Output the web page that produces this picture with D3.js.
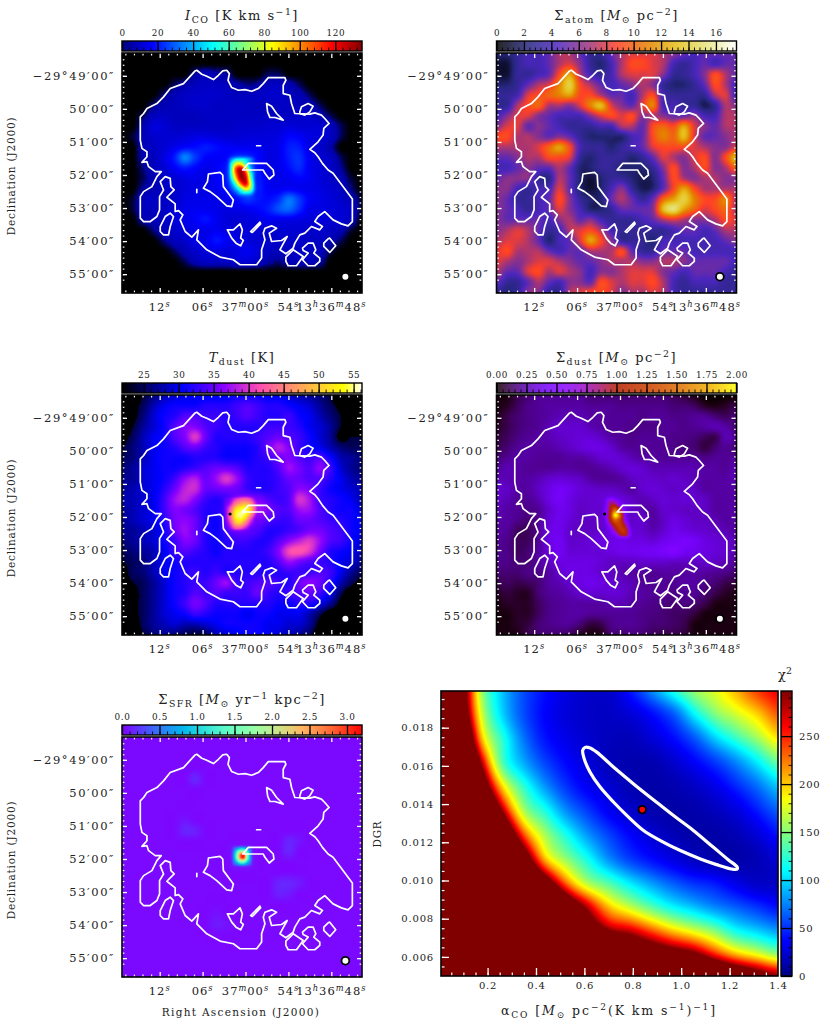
<!DOCTYPE html>
<html>
<head>
<meta charset="utf-8">
<script src="https://cdn.jsdelivr.net/npm/d3@7"></script>
<style>
  html, body { margin: 0; padding: 0; background: #fff; }
  svg { display: block; }
  text { font-family: "DejaVu Serif", serif; fill: #222; white-space: pre; }
</style>
</head>
<body>
<svg id="fig" width="830" height="1030"></svg>
<script>
// image pixel coordinates of the map contour (0-722 across each map)
const contourMain = [[225,52],[240,64],[255,70],[275,80],[290,67],[303,54],[315,52],[323,62],[319,82],[330,104],[350,112],[370,110],[390,115],[410,107],[425,92],[440,74],[490,74],[493,82],[485,97],[485,122],[505,127],[510,152],[520,182],[565,184],[580,180],[600,187],[610,197],[623,212],[607,227],[605,247],[590,267],[565,290],[580,300],[590,312],[603,332],[620,352],[635,362],[693,439],[693,507],[680,520],[660,514],[635,502],[610,477],[590,492],[580,507],[603,522],[595,532],[570,522],[550,542],[535,547],[520,572],[515,587],[493,604],[475,592],[483,577],[497,552],[480,564],[450,567],[443,542],[465,527],[450,520],[430,527],[425,542],[430,562],[420,592],[420,617],[405,637],[355,637],[335,622],[295,614],[255,592],[225,562],[230,532],[210,554],[190,537],[175,502],[183,487],[170,474],[160,477],[160,454],[135,434],[157,412],[147,402],[145,377],[130,372],[115,387],[125,412],[113,432],[113,472],[105,492],[85,507],[65,507],[55,497],[55,432],[65,417],[90,402],[105,372],[118,357],[100,357],[80,342],[75,327],[60,329],[75,312],[75,297],[60,287],[55,262],[55,192],[65,182],[75,167],[105,152],[125,132],[145,107],[185,92],[220,54]];
const contourHoles = [
  [[363,352],[380,332],[435,332],[455,352],[457,367],[443,379],[430,362],[425,352]],
  [[260,364],[295,359],[303,367],[305,402],[335,442],[330,462],[315,460],[285,432],[265,417],[245,407],[257,387]],
  [[435,152],[450,160],[465,182],[485,202],[460,194],[445,194],[438,177]],
  [[535,177],[540,162],[560,152],[575,160],[565,177],[550,187],[535,182]],
  [[405,279],[417,279]],
  [[225,410],[225,420]],
  [[115,522],[130,492],[145,482],[155,492],[145,522],[140,547],[125,547],[115,537]],
  [[317,532],[335,532],[355,514],[362,532],[357,557],[365,564],[357,580],[343,572],[330,557]],
  [[387,537],[415,509],[417,514],[392,540]],
  [[625,557],[643,580],[625,600],[607,582],[607,572],[620,559]],
  [[493,614],[515,592],[545,612],[525,640],[500,640],[493,627]],
  [[543,587],[560,572],[575,572],[583,592],[577,602],[595,617],[595,627],[580,640],[560,640],[543,622],[560,602],[545,594]]
];
const beamCentre = [672, 673];
const nanPixel = [325, 358];

const raTicks = [12, 6, 0, -6, -12];
const raLabels = ["12~{s}", "06~{s}", "37~{m}00~{s}", "54~{s}", "13~{h}36~{m}48~{s}"];
const decTicks = [49, 50, 51, 52, 53, 54, 55];
const decLabels = ["−29°49′00″", "50′00″", "51′00″", "52′00″", "53′00″", "54′00″", "55′00″"];

const coTicks = [0, 20, 40, 60, 80, 100, 120];
const atomTicks = [0, 2, 4, 6, 8, 10, 12, 14, 16];
const tdustTicks = [25, 30, 35, 40, 45, 50, 55];
const dustTicks = [0, 0.25, 0.5, 0.75, 1, 1.25, 1.5, 1.75, 2];
const sfrTicks = [0, 0.5, 1, 1.5, 2, 2.5, 3];
const chiTicks = [0, 50, 100, 150, 200, 250];
const alphaTicks = [0.2, 0.4, 0.6, 0.8, 1.0, 1.2, 1.4];
const dgrTicks = [0.006, 0.008, 0.01, 0.012, 0.014, 0.016, 0.018];

// I_CO [K km/s], 0 = no data
const coGrid = [
[0,0,0,0,0,0,0,0,0,0,0,0,0,0,0,0,0,0,0,0,0,0,0,0],
[0,0,0,0,0,0,0,0,0,0,0,0,0,0,0,0,0,0,0,0,0,0,0,0],
[0,0,0,0,0,0,0,5,8,6,5,0,0,0,3,3,0,0,0,0,0,0,0,0],
[0,0,0,0,0,3,6,8,9,9,8,6,4,5,8,9,7,3,0,0,0,0,0,0],
[0,0,0,0,4,7,9,10,10,10,9,8,8,9,10,10,8,7,3,0,0,0,0,0],
[0,0,0,4,7,8,9,10,10,9,9,9,9,8,8,9,9,8,7,3,0,0,0,0],
[0,0,3,8,9,8,8,8,9,9,9,9,9,9,9,9,9,10,10,7,3,0,0,0],
[0,0,6,12,11,9,9,9,9,9,9,10,10,10,11,11,12,11,11,11,8,3,0,0],
[0,2,7,10,11,11,12,13,13,12,11,11,12,12,12,13,17,16,13,12,9,3,0,0],
[0,0,7,9,11,14,17,18,20,18,16,15,15,15,13,14,20,20,13,10,6,0,0,0],
[0,0,6,8,13,20,34,24,17,16,17,22,22,18,13,14,20,23,15,11,9,3,0,0],
[0,0,4,8,11,16,20,17,14,16,20,30,30,20,14,14,18,22,15,12,10,5,0,0],
[0,0,3,7,9,11,13,14,13,16,20,30,30,22,15,14,15,17,15,12,10,7,2,0],
[0,0,5,7,9,10,12,13,13,15,18,26,30,22,16,15,16,15,14,13,11,9,4,0],
[0,2,8,9,9,10,13,14,14,14,15,18,24,20,18,22,32,24,16,14,12,10,7,2],
[0,2,8,8,9,11,14,15,15,14,13,14,15,17,20,27,30,22,14,13,12,11,9,2],
[0,0,6,7,9,12,14,16,19,15,12,11,12,13,15,14,14,13,12,12,11,11,8,0],
[0,0,0,4,8,10,12,14,14,15,13,12,12,11,11,11,11,11,10,10,9,7,2,0],
[0,0,0,0,4,8,10,14,14,19,16,13,12,11,10,10,10,10,9,9,7,3,0,0],
[0,0,0,0,0,3,7,10,12,13,12,13,15,12,9,8,9,9,9,8,3,0,0,0],
[0,0,0,0,0,0,3,7,9,9,9,11,11,9,6,4,7,8,8,6,0,0,0,0],
[0,0,0,0,0,0,0,0,0,0,0,0,0,0,0,0,0,0,0,0,0,0,0,0],
[0,0,0,0,0,0,0,0,0,0,0,0,0,0,0,0,0,0,0,0,0,0,0,0],
[0,0,0,0,0,0,0,0,0,0,0,0,0,0,0,0,0,0,0,0,0,0,0,0]];
// finer reading around the nucleus
const coCore = [
[16,18,22,24,22,18,15,14],
[18,30,45,50,45,35,20,15],
[20,45,80,85,60,35,20,15],
[22,50,105,125,95,45,22,16],
[22,50,100,132,115,60,25,16],
[20,42,85,125,125,70,25,16],
[18,32,60,100,120,80,28,16],
[16,24,40,62,85,70,28,16],
[15,18,25,38,45,40,22,15],
[14,15,18,22,24,24,18,14]];

// Sigma_atom [Msun/pc2]
const atomGrid = [
[2,2,3,4,4,5,7,7,5,3,3,5,7,8,8,8,7,6,5,4,5,5,5,5],
[1,1,3,4,4,5,7,8,6,3,2,4,7,9,9,8,7,4,3,4,5,4,5,5],
[1,1,3,3,4,5,9,12,7,4,3,4,7,8,8,8,6,3,3,4,6,9,7,5],
[2,2,3,5,7,8,11,14,9,7,5,4,5,6,7,6,3,2,2,3,5,9,7,4],
[3,3,4,8,9,10,11,12,9,9,7,5,5,4,7,9,4,3,3,3,3,7,8,4],
[3,3,7,9,10,7,7,6,8,11,13,8,6,5,8,11,4,4,3,3,1.5,3,7,6],
[4,6,8,8,6,5,4,4,4,6,8,9,8,9,6,7,6,5,5,6,4,4,7,7],
[6,8,8,5,6,5,4,3,3,3,4,4,7,7,5,9,10,9,12,8,6,5,7,7],
[9,9,7,7,6,5,6,5,3,2,2,2,2,4,5,9,11,10,13,8,5,5,6,7],
[7,7,7,7,8,10,12,9,4,3,3,2,3,4,5,8,9,9,9,8,7,6,6,8],
[5,5,6,7,7,9,9,8,3,2,3,3,3,2,3,5,8,7,6,8,9,6,9,13],
[4,4,5,6,5,5,7,5,2,2,3,3,2,2,2,3,6,9,6,7,9,6,7,10],
[5,6,6,6,3,2.5,7,5,2,1,2,3,3,2,1.5,2,5,9,7,6,7,7,6,6],
[6,6,4,3,4,4,8,5,2,1,2,4,6,3,1.5,2,5,9,12,9,7,7,7,7],
[6,5,3,3,4,5,9,6,3,2,2,5,7,5,3,5,10,12,14,11,9,9,11,7],
[6,5,4,3,4,5,8,6,4,2,2,3,5,5,5,6,13,15,12,10,8,9,10,7],
[6,5,5,5,5,4,6,7,5,6,4,3,3,3,4,5,7,8,7,6,6,7,9,8],
[6,7,8,7,5,3,4,7,8,9,7,4,3,3,3,3,3,4,5,5,4,5,7,7],
[7,8,8,7,5,2,4,5,8,12,9,6,3,3,3,2,4,4,4,4,4,4,5,6],
[8,9,7,7,7,5,4,5,5,7,7,7,9,5,3,3,5,5,5,4,4,4,4,4],
[8,7,6,7,8,8,7,6,5,5,6,7,7,7,6,6,7,7,6,5,5,5,5,4],
[7,5,5,8,9,7,8,7,6,4,6,6,7,8,8,8,6,5,4,5,5,5,4,3],
[5,3,3,5,7,5,4,6,6,5,9,8,7,8,8,9,7,4,3,4,4,4,3,3],
[3,2,3,6,6,3,3,7,8,9,9,8,6,7,7,8,7,4,3,3,3,3,3,3]];

// T_dust [K]
const tdustGrid = [
[22,22,24,26,28,29,30,30,30,30,30,31,31,31,30,30,29,28,27,26,24,22,22,22],
[22,23,25,28,30,31,31,31,32,32,32,33,34,33,32,32,31,30,29,27,25,23,22,22],
[22,23,26,29,31,32,34,34,33,33,32,33,34,33,32,32,33,31,30,28,26,24,22,22],
[22,24,27,29,31,34,36,36,34,33,32,32,32,32,33,33,33,32,30,29,27,24,22,22],
[23,25,28,30,31,34,36,40,35,32,32,32,32,33,34,35,34,33,31,29,27,23,24,24],
[24,26,28,30,31,32,34,35,33,32,31,31,31,32,35,38,36,33,31,30,28,26,25,25],
[25,26,28,30,31,31,31,32,32,32,31,31,31,32,33,35,36,34,33,34,31,28,27,26],
[26,27,29,30,31,31,32,33,34,35,35,34,32,32,32,34,37,35.5,34,36.5,33,29,27,26],
[27,27,29,30,31,33,36.5,38,35,37,40,37,33,32,32,33,35,35,34,34,32,30,28,27],
[27,28,29,30,32,35,38.5,39,35,35,35.5,35,33,32,32,33,34,36.5,35.5,33,31,30,29,28],
[28,28,29,30,33,37,38.5,36,33,32,33,35,36,36,34,33,34,39.5,37.5,33,32,31,30,28],
[27,28,29,30,33,36,35.5,34,32,32,33,36,38,38,36,34,34,37,37,34,32,31,31,29],
[27,28,29,30,32,35.5,36.5,35,32,31,33,36,38,36,34,33,33,35,35,34,33,32,31,30],
[27,27,28,29,31,35,37,35,32,31,33,35,35,34,32,32,33,34,35.5,35.5,34,33,31,30],
[26,27,28,29,31,33,36,35,32,31,32,33,33,32,32,34,36.5,38.5,40,37,34,33,31,29],
[25,26,27,28,30,33,34,33,32,31,32,32,32,32,33,36,41,42,40,35.5,32,31,30,28],
[24,25,26,28,30,31,32,32,32,32,32,32,32,32,32,34,37,35.5,34,33,32,30,29,27],
[23,25,26,28,30,31,32,33,32,33,32,32,32,32,32,32,33,33,33,34,33,30,27,25],
[23,24,25,27,29,31,32,33,33,35,37,33,33,34,34,33,32,35,36.5,35,32,28,25,23],
[22,23,25,27,29,31,32,34,33,34,33,33,33,35,33,32,33,34,35,33,30,25,22,22],
[22,23,25,27,29,31,33,35.5,34,32,32,32,32,32,32,31,31,32,32,30,27,23,22,22],
[22,23,25,27,29,30,31,33,32,31,31,31,30,31,31,30,30,30,28,25,22,22,22,22],
[22,22,25,27,28,29,28,28,29,30,31,31,31,31,30,30,29,29,27,23,22,22,22,22],
[22,22,24,26,27,26,25,24,25,28,29,30,31,31,30,29,28,27,25,22,22,22,22,22]];
// the bright nucleus read on a finer raster
const tdustCore = [
[33,33,34,35,36,36,35,34,33],
[33,34,36,39,41,42,40,36,34],
[33,35,38,44,47,48,46,39,35],
[33,36,42,50,53,54,50,41,35],
[33,36,44,53,55,54,48,39,34],
[33,36,43,52,54,50,42,36,34],
[33,35,40,48,49,44,38,35,33],
[33,34,37,41,41,38,35,34,33],
[32,33,34,35,35,34,33,33,32]];

// Sigma_dust [Msun/pc2]
const dustGrid = [
[.02,.02,.1,.15,.2,.2,.2,.2,.2,.15,.15,.15,.15,.15,.15,.15,.15,.12,.08,.03,0,0,0,0],
[.02,.05,.12,.18,.2,.22,.22,.22,.22,.2,.2,.2,.18,.18,.18,.18,.18,.15,.15,.12,.05,.03,.05,.1],
[.03,.1,.15,.18,.2,.22,.25,.25,.25,.22,.22,.2,.2,.2,.18,.2,.2,.18,.18,.2,.2,.15,.12,.15],
[.05,.1,.15,.18,.2,.25,.3,.3,.3,.25,.22,.2,.2,.18,.18,.18,.2,.2,.18,.2,.22,.25,.22,.15],
[.08,.12,.17,.2,.22,.25,.28,.3,.32,.32,.28,.22,.2,.18,.2,.2,.2,.18,.18,.16,.12,.1,.25,.2],
[.1,.15,.2,.22,.22,.22,.25,.28,.32,.35,.35,.3,.22,.2,.2,.2,.2,.18,.16,.15,.08,.15,.2,.15],
[.15,.2,.22,.22,.2,.2,.2,.22,.22,.25,.3,.32,.3,.25,.22,.22,.2,.2,.2,.2,.18,.2,.2,.2],
[.2,.25,.22,.2,.2,.2,.22,.22,.2,.2,.22,.25,.3,.32,.3,.25,.25,.25,.25,.25,.22,.22,.2,.25],
[.25,.25,.22,.22,.25,.3,.32,.3,.28,.22,.2,.2,.22,.28,.3,.3,.28,.3,.28,.25,.22,.22,.22,.25],
[.3,.28,.22,.22,.28,.35,.42,.38,.32,.3,.28,.28,.25,.22,.3,.32,.3,.28,.3,.28,.22,.22,.22,.22],
[.28,.25,.2,.2,.25,.35,.42,.35,.3,.3,.32,.35,.32,.28,.25,.28,.32,.3,.32,.3,.28,.22,.22,.22],
[.25,.22,.2,.18,.2,.3,.38,.35,.28,.3,.3,.32,.32,.3,.25,.22,.3,.3,.28,.28,.28,.22,.22,.22],
[.22,.22,.18,.15,.2,.32,.38,.32,.28,.28,.3,.32,.32,.3,.3,.22,.28,.35,.32,.28,.28,.25,.22,.22],
[.22,.2,.12,.12,.2,.35,.38,.3,.28,.28,.3,.32,.34,.32,.3,.25,.3,.38,.35,.32,.3,.28,.25,.22],
[.2,.18,.12,.12,.2,.35,.4,.3,.3,.32,.35,.36,.38,.35,.35,.32,.38,.42,.45,.42,.35,.32,.3,.25],
[.18,.18,.12,.15,.22,.32,.4,.32,.32,.32,.32,.35,.38,.38,.4,.42,.45,.5,.42,.38,.35,.32,.3,.22],
[.18,.18,.15,.15,.22,.28,.35,.35,.35,.35,.32,.28,.28,.28,.3,.3,.3,.28,.28,.28,.3,.28,.25,.2],
[.15,.15,.15,.18,.18,.22,.3,.35,.35,.35,.3,.28,.25,.22,.22,.2,.22,.22,.22,.22,.22,.2,.18,.15],
[.1,.12,.1,.12,.15,.22,.25,.3,.35,.38,.35,.3,.28,.25,.2,.2,.2,.2,.22,.22,.18,.15,.1,.08],
[.05,.08,.05,.05,.15,.2,.22,.25,.3,.32,.3,.32,.3,.25,.22,.2,.2,.18,.2,.2,.15,.1,.05,.03],
[.02,.05,.05,.05,.12,.18,.2,.22,.22,.22,.22,.25,.25,.22,.2,.18,.17,.15,.17,.15,.1,.03,.02,.02],
[.02,.02,.05,.05,.12,.18,.2,.22,.22,.2,.2,.2,.2,.2,.18,.17,.15,.13,.12,.08,.02,.02,.02,.02],
[.02,.02,.05,.08,.15,.18,.2,.2,.15,.08,.1,.18,.2,.2,.18,.15,.15,.13,.1,.02,.02,.02,.02,.02],
[.02,.02,.03,.1,.15,.15,.15,.12,.05,.02,.03,.15,.15,.17,.15,.12,.1,.1,.08,.02,.02,.02,.02,.02]];
const dustCore = [
[.3,.32,.38,.35,.32,.3,.28,.28],
[.32,.38,.7,.55,.38,.32,.3,.28],
[.32,.42,.9,.95,.55,.35,.3,.28],
[.32,.5,1.0,1.5,1.0,.4,.3,.28],
[.3,.5,1.1,2.0,1.4,.5,.3,.28],
[.3,.42,1.0,1.45,1.2,.6,.3,.28],
[.3,.35,.7,1.1,1.2,.85,.35,.28],
[.3,.32,.45,.85,1.15,1.1,.45,.3],
[.3,.32,.38,.5,.9,1.0,.5,.3],
[.3,.32,.35,.38,.45,.5,.35,.3]];

// Sigma_SFR is nearly flat: a level plus the cells that stand out [col,row,value]
const sfrLevel = 0.03;
const sfrCells = [[11,11,.12],[12,11,.12],[11,12,.12],[12,12,.12],
  [7,4,.15],[6,9,.14],[7,9,.12],[6,8,.08],[16,10,.14],[17,10,.08],[16,11,.14],[15,14,.13],[16,14,.15],[15,15,.12],[17,14,.1],[16,15,.1],[9,18,.1],[9,17,.07],[10,18,.07]];
const sfrCore = [
[.08,.15,.22,.28,.28,.22,.15,.08],
[.15,.3,.55,.8,.8,.55,.3,.15],
[.22,.55,1.2,1.7,1.7,1.2,.55,.22],
[.28,.7,1.6,2.7,2.9,1.6,.7,.28],
[.28,.7,1.6,2.7,2.9,1.6,.7,.28],
[.22,.55,1.1,1.7,1.7,1.1,.55,.22],
[.12,.3,.55,.8,.8,.55,.3,.12],
[.06,.12,.22,.28,.28,.22,.12,.06]];

// chi2 read along 13 rows (top first) and 17 columns
const chiGrid = [
[700,350,150,90,57,39,28,22,22,42,75,115,152,175,205,240,262],
[800,380,165,95,57,36,26,21,20,25,38,60,105,145,170,196,232],
[1000,480,195,118,68,41,30,23,18,17,25,38,60,95,125,155,190],
[1200,600,265,128,84,55,37,26,17,14,14,22,35,52,75,105,140],
[1500,800,360,186,120,78,50,33,24,15,12,14,20,30,47,68,95],
[1900,1100,520,270,155,115,75,52,33,22,14,12,13,18,27,44,65],
[2300,1500,800,410,225,155,113,78,54,36,24,16,12,12,16,26,42],
[2700,1900,1100,620,340,195,148,112,75,52,38,27,18,13,12,16,26],
[3100,2400,1500,950,520,330,215,155,128,100,78,60,47,40,28,20,20],
[3500,2900,2100,1500,1000,600,370,265,195,160,130,105,88,72,60,48,38],
[4000,3400,2700,2000,1500,1000,560,370,285,262,225,190,165,140,108,92,78],
[4500,3900,3200,2600,2100,1600,1000,660,480,405,360,325,295,240,195,170,145],
[5000,4400,3800,3200,2700,2300,1700,1200,900,700,620,570,520,437,377,330,290]];

const chiEllipse = [[.593,.01681],[.603,.01697],[.621,.01695],[.651,.01672],[.72,.01594],[.802,.01507],[.885,.01423],[.967,.01341],[1.049,.01263],[1.132,.01175],[1.194,.01109],[1.231,.01071],[1.231,.01059],[1.208,.0106],[1.146,.01083],[1.077,.01114],[.994,.01158],[.912,.0121],[.843,.01263],[.775,.01341],[.72,.01411],[.665,.01489],[.623,.01568],[.599,.01638]];
const bestFit = [0.839, 0.01371];

// colour maps
const jet = t => {
  const f = c => Math.max(0, Math.min(1, 1.5 - Math.abs(4 * t - c)));
  return [f(3), f(2), f(1)];
};
const cmrStops = [[0,0,0],[.15,.15,.5],[.3,.15,.75],[.6,.2,.5],[1,.25,.15],[.9,.5,0],[.9,.75,.1],[.9,.9,.5],[1,1,1]];
const cmr = t => {
  const p = Math.max(0, Math.min(0.9999, t)) * 8, i = Math.floor(p), k = p - i;
  return cmrStops[i].map((c, j) => c + (cmrStops[i + 1][j] - c) * k);
};
const gnuplot2 = t => {
  const b = t < .25 ? 4 * t : t < .92 ? -2 * t + 1.84 : t / .08 - 11.5;
  return [t / .32 - .78125, 2 * t - .84, b];
};
const gnuplot = t => {
  const c = Math.max(0, t);
  return [Math.sqrt(c), c * c * c, Math.sin(2 * Math.PI * c)];
};
const rainbow = t => [Math.abs(2 * t - .5), Math.sin(Math.PI * t), Math.cos(Math.PI * t / 2)];

const rgbOf = cmap => t => {
  const c = cmap(Math.max(0, Math.min(1, t))).map(v => Math.round(255 * Math.max(0, Math.min(1, v))));
  return `rgb(${c[0]},${c[1]},${c[2]})`;
};

// Catmull-Rom sampling, the "bicubic" imshow of the original
const cubic = (a, b, c, d, t) =>
  b + 0.5 * t * (c - a + t * (2 * a - 5 * b + 4 * c - d + t * (3 * (b - c) + d - a)));
function sampleGrid(grid, gx, gy) {
  const rows = grid.length, cols = grid[0].length;
  const ix = Math.min(Math.floor(gx), cols - 2), iy = Math.min(Math.floor(gy), rows - 2);
  const at = (r, c) => grid[Math.max(0, Math.min(rows - 1, r))][Math.max(0, Math.min(cols - 1, c))];
  const line = [-1, 0, 1, 2].map(dr =>
    cubic(at(iy + dr, ix - 1), at(iy + dr, ix), at(iy + dr, ix + 1), at(iy + dr, ix + 2), gx - ix));
  return cubic(line[0], line[1], line[2], line[3], gy - iy);
}

function fieldImage(opt) {
  const { grid, colour, domain, w, h } = opt;
  const floor = opt.floor === undefined ? -Infinity : opt.floor;
  const canvas = document.createElement("canvas");
  canvas.width = w;
  canvas.height = h;
  const ctx = canvas.getContext("2d");
  const img = ctx.createImageData(w, h);
  const gx = d3.scaleLinear().domain([0, w - 1]).range([0, grid[0].length - 1]);
  const gy = d3.scaleLinear().domain([0, h - 1]).range([0, grid.length - 1]);
  const norm = d3.scaleLinear().domain(domain).range([0, 1]);
  const core = opt.core;
  let cx, cy;
  if (core) {
    cx = d3.scaleLinear().domain(core.x).range([0, core.grid[0].length - 1]);
    cy = d3.scaleLinear().domain(core.y).range([0, core.grid.length - 1]);
  }
  for (let y = 0; y < h; y++) {
    for (let x = 0; x < w; x++) {
      let v = sampleGrid(grid, gx(x), gy(y));
      if (opt.post) v = opt.post(v);
      if (core) {
        const ix = x / w * 722, iy = y / h * 722;
        const ux = cx(ix), uy = cy(iy);
        const nc = core.grid[0].length - 1, nr = core.grid.length - 1;
        if (ux >= 0 && ux <= nc && uy >= 0 && uy <= nr) {
          const wgt = Math.min(1, Math.min(ux, nc - ux)) * Math.min(1, Math.min(uy, nr - uy));
          v = v * (1 - wgt) + sampleGrid(core.grid, ux, uy) * wgt;
        }
      }
      let c = v < floor ? [0, 0, 0] : colour(Math.max(0, Math.min(1, norm(v))));
      if (opt.fade && v < opt.fade) {
        const k = Math.max(0, v / opt.fade);
        c = c.map(u => u * k);
      }
      const o = 4 * (y * w + x);
      img.data[o] = 255 * Math.max(0, Math.min(1, c[0]));
      img.data[o + 1] = 255 * Math.max(0, Math.min(1, c[1]));
      img.data[o + 2] = 255 * Math.max(0, Math.min(1, c[2]));
      img.data[o + 3] = 255;
    }
  }
  ctx.putImageData(img, 0, 0);
  return canvas.toDataURL();
}

// small markup: ^{sup} _{sub} ~{italic sup} *italic*
function richText(sel, str, size) {
  const re = /(\^\{[^}]*\}|_\{[^}]*\}|~\{[^}]*\}|\*[^*]*\*)/;
  let shift = 0;
  str.split(re).filter(s => s.length).forEach(tok => {
    let t = tok, fs = size, target = 0, italic = false;
    if (tok[0] === "^") { t = tok.slice(2, -1); fs = size * .72; target = -size * .38; }
    else if (tok[0] === "~") { t = tok.slice(2, -1); fs = size * .72; target = -size * .38; italic = true; }
    else if (tok[0] === "_") { t = tok.slice(2, -1); fs = size * .72; target = size * .22; }
    else if (tok[0] === "*") { t = tok.slice(1, -1); italic = true; }
    sel.append("tspan")
      .attr("dy", target - shift)
      .attr("font-size", fs)
      .attr("font-style", italic ? "italic" : "normal")
      .text(t);
    shift = target;
  });
  return sel;
}

function styleTicks(g, colour, width) {
  g.select(".domain").remove();
  g.selectAll(".tick line").attr("stroke", colour).attr("stroke-width", width);
  g.selectAll(".tick text").remove();
}

const svg = d3.select("#fig");
const MAP = 240, CBH = 10;
const raScale = d3.scaleLinear().domain([17.27, -16.29]).range([0, MAP]);
const decScale = d3.scaleLinear().domain([48.31, 55.57]).range([0, MAP]);
const imgX = d3.scaleLinear().domain([0, 722]).range([0, MAP]);
const imgY = d3.scaleLinear().domain([0, 722]).range([0, MAP]);
const contourLine = d3.line().x(d => imgX(d[0])).y(d => imgY(d[1])).curve(d3.curveLinearClosed);

function drawColorbar(cfg) {
  const g = svg.append("g").attr("transform", `translate(${cfg.x},${cfg.y - CBH - 2})`);
  const sc = d3.scaleLinear().domain(cfg.domain).range([0, MAP]);
  const col = rgbOf(cfg.cmap);
  g.selectAll("rect.step").data(d3.range(MAP)).join("rect")
    .attr("class", "step")
    .attr("x", d => d).attr("y", 0).attr("width", 1.2).attr("height", CBH)
    .attr("fill", d => col(d / MAP));
  // minor then major separators
  const step = cfg.ticks[1] - cfg.ticks[0];
  const minors = d3.range(cfg.domain[0] - (cfg.domain[0] % (step / cfg.sub)), cfg.domain[1], step / cfg.sub)
    .filter(v => v >= cfg.domain[0]);
  g.append("g").attr("transform", `translate(0,${CBH})`)
    .call(d3.axisBottom(sc).tickValues(minors).tickSize(-3.5).tickFormat(""))
    .call(a => styleTicks(a, "#000", 0.9));
  g.append("g").attr("transform", `translate(0,${CBH})`)
    .call(d3.axisBottom(sc).tickValues(cfg.ticks).tickSize(-CBH).tickFormat(""))
    .call(a => styleTicks(a, "#000", 1.3));
  g.append("rect").attr("width", MAP).attr("height", CBH)
    .attr("fill", "none").attr("stroke", "#000").attr("stroke-width", 1.4);
  const lab = g.append("g").call(d3.axisTop(sc).tickValues(cfg.ticks).tickSize(0).tickPadding(5)
    .tickFormat(cfg.format));
  lab.select(".domain").remove();
  lab.selectAll("text").attr("font-size", 8.8).attr("font-family", "DejaVu Serif").attr("fill", "#333").style("letter-spacing", ".6px");
  const title = g.append("text").attr("x", MAP / 2).attr("y", -21).attr("text-anchor", "middle")
    .style("letter-spacing", "1.5px");
  richText(title, cfg.title, 13);
}

function drawMap(cfg) {
  const g = svg.append("g").attr("transform", `translate(${cfg.x},${cfg.y})`);
  g.append("image").attr("width", MAP).attr("height", MAP)
    .attr("href", fieldImage({ grid: cfg.grid, colour: cfg.cmap, domain: cfg.domain, floor: cfg.floor,
      fade: cfg.fade, core: cfg.core, w: MAP, h: MAP }));

  g.append("path").datum(contourMain).attr("d", contourLine)
    .attr("fill", "none").attr("stroke", "#fff").attr("stroke-width", 1.7).attr("stroke-linejoin", "round");
  g.selectAll("path.hole").data(contourHoles).join("path")
    .attr("class", "hole").attr("d", contourLine)
    .attr("fill", "none").attr("stroke", "#fff").attr("stroke-width", 1.7).attr("stroke-linejoin", "round");

  if (cfg.nan) {
    g.append("circle").attr("cx", imgX(nanPixel[0])).attr("cy", imgY(nanPixel[1])).attr("r", 1.6).attr("fill", "#000");
  }
  g.append("circle").attr("cx", imgX(beamCentre[0])).attr("cy", imgY(beamCentre[1])).attr("r", 3.9)
    .attr("fill", "#fff").attr("stroke", "#000").attr("stroke-width", 1.8);

  // white ticks on all four sides
  const raMinor = d3.range(-16.8, 17.2, 1.2).filter(v => !raTicks.some(t => Math.abs(t - v) < .01));
  const decMinor = d3.range(0, 44).map(i => 48 + i / 6).filter(v => v > 48.35 && v < 55.55);
  const sides = [
    { axis: d3.axisBottom, sc: raScale, maj: raTicks, min: raMinor, tr: `translate(0,${MAP})` },
    { axis: d3.axisTop, sc: raScale, maj: raTicks, min: raMinor, tr: "translate(0,0)" },
    { axis: d3.axisLeft, sc: decScale, maj: decTicks, min: decMinor, tr: "translate(0,0)" },
    { axis: d3.axisRight, sc: decScale, maj: decTicks, min: decMinor, tr: `translate(${MAP},0)` },
  ];
  sides.forEach(s => {
    g.append("g").attr("transform", s.tr)
      .call(s.axis(s.sc).tickValues(s.min).tickSize(-2.4).tickFormat(""))
      .call(a => styleTicks(a, "#fff", 1.2));
    g.append("g").attr("transform", s.tr)
      .call(s.axis(s.sc).tickValues(s.maj).tickSize(-5).tickFormat(""))
      .call(a => styleTicks(a, "#fff", 1.3));
  });

  g.append("rect").attr("width", MAP).attr("height", MAP)
    .attr("fill", "none").attr("stroke", "#000").attr("stroke-width", 1.6);

  raTicks.forEach((t, i) => {
    const lab = g.append("text").attr("x", raScale(t)).attr("y", MAP + 18).attr("text-anchor", "middle")
      .style("letter-spacing", "1px");
    richText(lab, raLabels[i], 11.5);
  });
  decTicks.forEach((t, i) => {
    const lab = g.append("text").attr("x", -7).attr("y", decScale(t) + 4).attr("text-anchor", "end")
      .style("letter-spacing", "1.6px");
    richText(lab, decLabels[i], 11.5);
  });

  if (cfg.ylabel) {
    g.append("text").attr("transform", `translate(${-cfg.x + 15},${MAP / 2 + 3}) rotate(-90)`)
      .attr("text-anchor", "middle").attr("font-size", 10.5).style("letter-spacing", ".8px")
      .text("Declination (J2000)");
  }
  if (cfg.xlabel) {
    g.append("text").attr("x", MAP / 2 - 1).attr("y", MAP + 39).attr("text-anchor", "middle")
      .attr("font-size", 10.5).style("letter-spacing", "1.3px").text("Right Ascension (J2000)");
  }
  drawColorbar(cfg);
}

const fmtInt = d3.format("d");
drawMap({ x: 122, y: 53, grid: coGrid, cmap: jet, domain: [0, 135], fade: 5, ylabel: true,
  core: { grid: coCore, x: [310, 415], y: [302, 437] },
  ticks: coTicks, sub: 5, format: fmtInt, title: "*I*_{CO} [K km s^{−1}]" });
drawMap({ x: 496.5, y: 53, grid: atomGrid, cmap: cmr, domain: [0, 17.5],
  ticks: atomTicks, sub: 5, format: fmtInt, title: "Σ_{atom} [*M*_{⊙} pc^{−2}]" });
drawMap({ x: 122, y: 395, grid: tdustGrid, cmap: gnuplot2, domain: [21.9, 56.2], floor: 24, ylabel: true, nan: true,
  core: { grid: tdustCore, x: [295, 415], y: [295, 415] },
  ticks: tdustTicks, sub: 5, format: fmtInt, title: "*T*_{dust} [K]" });
drawMap({ x: 496.5, y: 395, grid: dustGrid, cmap: gnuplot, domain: [0, 2], nan: true,
  core: { grid: dustCore, x: [311, 416], y: [300, 435] },
  ticks: dustTicks, sub: 5, format: d3.format(".2f"), title: "Σ_{dust} [*M*_{⊙} pc^{−2}]" });

const sfrGrid = coGrid.map(r => r.map(() => sfrLevel));
sfrCells.forEach(([c, r, v]) => { sfrGrid[r][c] = v; });
drawMap({ x: 122, y: 737, grid: sfrGrid, cmap: rainbow, domain: [0, 3.2], ylabel: true, xlabel: true,
  core: { grid: sfrCore, x: [325, 395], y: [322, 392] },
  ticks: sfrTicks, sub: 5, format: d3.format(".1f"), title: "Σ_{SFR} [*M*_{⊙} yr^{−1} kpc^{−2}]" });

// chi2 panel
(function () {
  const W = 337, H = 285;
  const g = svg.append("g").attr("transform", "translate(441,691)");
  const x = d3.scaleLinear().domain([0.0075, 1.4]).range([0, W]);
  const y = d3.scaleLinear().domain([0.005, 0.01992]).range([H, 0]);
  // chi2 spans decades along the hyperbola, so it is resampled in log
  g.append("image").attr("width", W).attr("height", H)
    .attr("href", fieldImage({ grid: chiGrid.map(r => r.map(Math.log)), post: Math.exp, colour: jet,
      domain: [0, 297], w: W, h: H }));

  g.append("path").datum(chiEllipse)
    .attr("d", d3.line().x(d => x(d[0])).y(d => y(d[1])).curve(d3.curveCatmullRomClosed))
    .attr("fill", "none").attr("stroke", "#fff").attr("stroke-width", 3.2);
  g.append("circle").attr("cx", x(bestFit[0])).attr("cy", y(bestFit[1])).attr("r", 3.7)
    .attr("fill", "#f00").attr("stroke", "#000").attr("stroke-width", 1.8);

  const xMinor = d3.range(0.05, 1.4, 0.05);
  const yMinor = d3.range(0.0055, 0.0199, 0.0005);
  g.append("g").attr("transform", `translate(0,${H})`)
    .call(d3.axisBottom(x).tickValues(xMinor).tickSize(-3.5).tickFormat(""))
    .call(a => styleTicks(a, "#fff", 1.2));
  g.append("g").call(d3.axisLeft(y).tickValues(yMinor).tickSize(-3.5).tickFormat(""))
    .call(a => styleTicks(a, "#fff", 1.2));

  const xAxis = g.append("g").attr("transform", `translate(0,${H})`)
    .call(d3.axisBottom(x).tickValues(alphaTicks).tickSize(-8).tickPadding(6).tickFormat(d3.format(".1f")));
  const yAxis = g.append("g")
    .call(d3.axisLeft(y).tickValues(dgrTicks).tickSize(-8).tickPadding(7).tickFormat(d3.format(".3f")));
  [xAxis, yAxis].forEach(a => {
    a.select(".domain").remove();
    a.selectAll(".tick line").attr("stroke", "#fff").attr("stroke-width", 1.3);
    a.selectAll("text").attr("font-size", 10).attr("font-family", "DejaVu Serif").attr("fill", "#333").style("letter-spacing", ".8px");
  });

  g.append("rect").attr("width", W).attr("height", H)
    .attr("fill", "none").attr("stroke", "#000").attr("stroke-width", 1.6);

  const xl = g.append("text").attr("x", 168).attr("y", 324).attr("text-anchor", "middle").style("letter-spacing", "1.9px");
  richText(xl, "α_{CO} [*M*_{⊙} pc^{−2}(K km s^{−1})^{−1}]", 12.5);
  g.append("text").attr("transform", "translate(-60,143) rotate(-90)").attr("text-anchor", "middle")
    .attr("font-size", 10.5).style("letter-spacing", ".8px").text("DGR");

  // vertical colour bar
  const cbW = 11;
  const cb = svg.append("g").attr("transform", "translate(781,691)");
  const c = d3.scaleLinear().domain([0, 297]).range([H, 0]);
  const col = rgbOf(jet);
  cb.selectAll("rect.step").data(d3.range(H)).join("rect")
    .attr("class", "step")
    .attr("x", 0).attr("y", d => d).attr("width", cbW).attr("height", 1.2)
    .attr("fill", d => col(1 - d / H));
  cb.append("g").attr("transform", `translate(${cbW},0)`)
    .call(d3.axisRight(c).tickValues(d3.range(10, 297, 10)).tickSize(-3.5).tickFormat(""))
    .call(a => styleTicks(a, "#000", 0.9));
  cb.append("g").attr("transform", `translate(${cbW},0)`)
    .call(d3.axisRight(c).tickValues(chiTicks).tickSize(-cbW).tickFormat(""))
    .call(a => styleTicks(a, "#000", 1.3));
  cb.append("rect").attr("width", cbW).attr("height", H)
    .attr("fill", "none").attr("stroke", "#000").attr("stroke-width", 1.4);
  const labs = cb.append("g").attr("transform", `translate(${cbW},0)`)
    .call(d3.axisRight(c).tickValues(chiTicks).tickSize(0).tickPadding(7));
  labs.select(".domain").remove();
  labs.selectAll("text").attr("font-size", 10).attr("font-family", "DejaVu Serif").attr("fill", "#333").style("letter-spacing", ".8px");
  const chiTitle = cb.append("text").attr("x", -3).attr("y", -12);
  richText(chiTitle, "χ^{2}", 13);
})();
</script>
</body>
</html>
